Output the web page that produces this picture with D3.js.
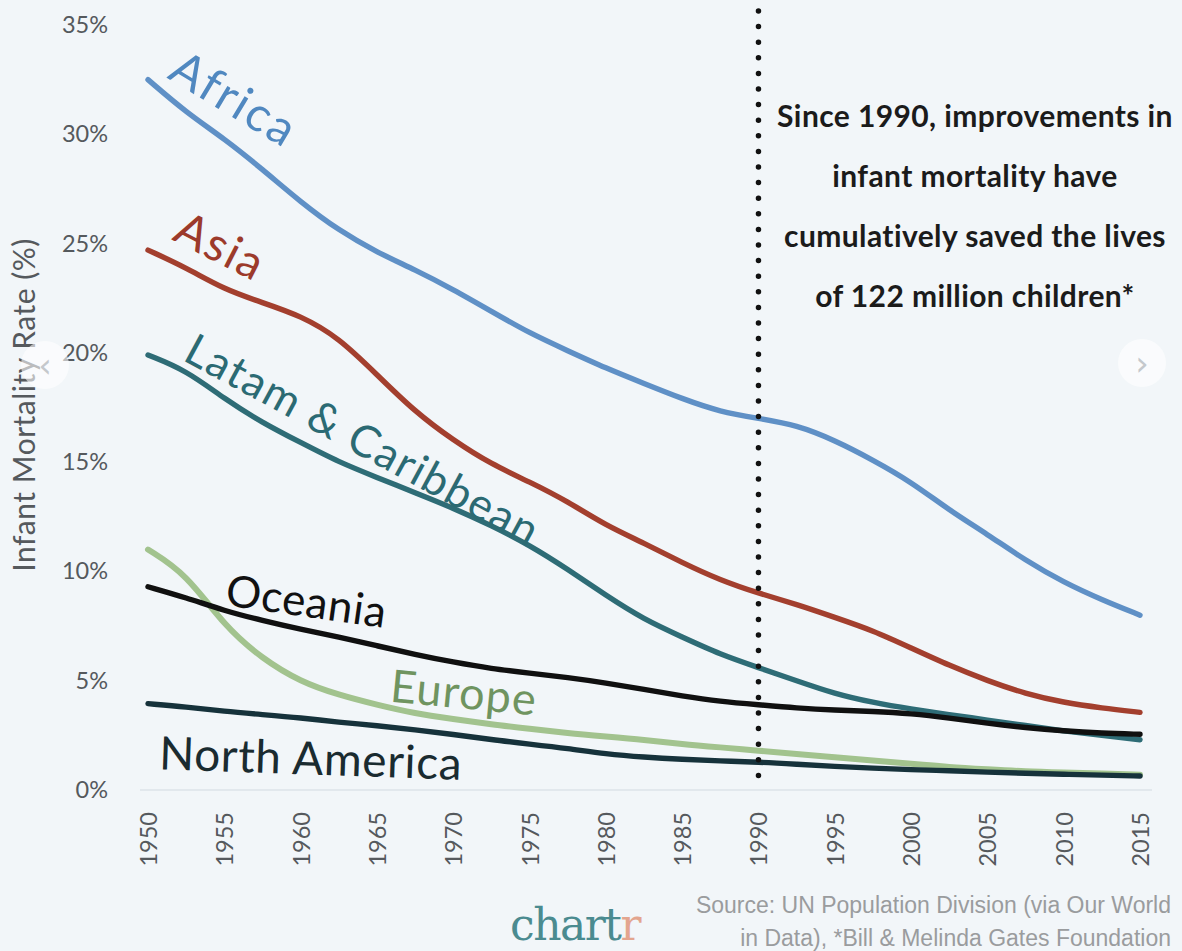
<!DOCTYPE html>
<html>
<head>
<meta charset="utf-8">
<script src="https://cdn.jsdelivr.net/npm/d3@7"></script>
<style>
  html, body { margin: 0; padding: 0; background: #f2f6f9; }
  svg { display: block; }
</style>
</head>
<body>
<svg id="chart" width="1182" height="951"></svg>
<script>
// Infant mortality rate (%) by world region, 1950–2015
const years = [1950, 1952.5, 1955, 1957.5, 1960, 1962.5, 1965, 1967.5, 1970, 1972.5,
               1975, 1977.5, 1980, 1982.5, 1985, 1987.5, 1990, 1992.5, 1995, 1997.5,
               2000, 2002.5, 2005, 2007.5, 2010, 2012.5, 2015];

const africa   = [32.5, 31.0, 29.8, 28.4, 26.9, 25.6, 24.6, 23.8, 22.9, 21.9,
                  20.9, 20.1, 19.3, 18.6, 17.9, 17.3, 17.0, 16.7, 16.0, 15.1,
                  14.1, 12.8, 11.7, 10.5, 9.5, 8.7, 8.0];
const asia     = [24.7, 23.9, 22.9, 22.3, 21.7, 20.7, 19.0, 17.3, 16.0, 14.9,
                  14.1, 13.2, 12.1, 11.3, 10.4, 9.6, 9.0, 8.5, 7.9, 7.3,
                  6.5, 5.7, 5.0, 4.4, 4.0, 3.75, 3.55];
const latam    = [19.9, 19.2, 17.9, 16.8, 15.9, 15.0, 14.3, 13.6, 12.9, 12.1,
                  11.2, 10.1, 8.9, 7.8, 7.0, 6.2, 5.6, 5.0, 4.4, 4.0,
                  3.7, 3.45, 3.2, 2.95, 2.7, 2.5, 2.3];
const europe   = [11.0, 9.9, 7.5, 6.0, 4.95, 4.35, 3.9, 3.5, 3.25, 3.0,
                  2.8, 2.6, 2.45, 2.3, 2.1, 1.95, 1.8, 1.65, 1.5, 1.35,
                  1.2, 1.05, 0.95, 0.85, 0.8, 0.75, 0.7];
const oceania  = [9.3, 8.8, 8.2, 7.75, 7.35, 7.0, 6.6, 6.2, 5.85, 5.55,
                  5.35, 5.15, 4.9, 4.6, 4.3, 4.05, 3.9, 3.75, 3.65, 3.6,
                  3.5, 3.3, 3.05, 2.85, 2.7, 2.6, 2.55];
const northAm  = [3.95, 3.8, 3.6, 3.45, 3.3, 3.1, 2.95, 2.75, 2.55, 2.3,
                  2.1, 1.9, 1.65, 1.5, 1.4, 1.33, 1.28, 1.18, 1.08, 1.0,
                  0.93, 0.88, 0.82, 0.76, 0.72, 0.68, 0.64];

const regionNames = ["Africa", "Asia", "Latam & Caribbean", "Europe", "Oceania", "North America"];
const regionValues = [africa, asia, latam, europe, oceania, northAm];

const yTicks = [0, 5, 10, 15, 20, 25, 30, 35];
const xTicks = [1950, 1955, 1960, 1965, 1970, 1975, 1980, 1985, 1990, 1995, 2000, 2005, 2010, 2015];
const markerYear = 1990;

const noteLines = [
  "Since 1990, improvements in",
  "infant mortality have",
  "cumulatively saved the lives",
  "of 122 million children*"
];
const sourceLines = [
  "Source: UN Population Division (via Our World",
  "in Data), *Bill & Melinda Gates Foundation"
];

// Styling per region
const colors = {
  "Africa": "#5f90c6",
  "Asia": "#a33f2e",
  "Latam & Caribbean": "#2e6c76",
  "Europe": "#a2c38e",
  "Oceania": "#101010",
  "North America": "#16323b"
};
const labelColors = {
  "Africa": "#5088c0",
  "Asia": "#9c3a2b",
  "Latam & Caribbean": "#2b6a73",
  "Europe": "#6f9460",
  "Oceania": "#111111",
  "North America": "#1a2b30"
};
// Inline label placement: anchor in data space, rotation, font size, tracking
const labelLayout = {
  "Africa":            { year: 1951.2, value: 32.6, angle: 31,   size: 48, track: 2.5 },
  "Asia":              { year: 1951.5, value: 25.2, angle: 27,   size: 47, track: 2 },
  "Latam & Caribbean": { year: 1952.2, value: 19.7, angle: 28.4, size: 44, track: 1.6 },
  "Oceania":           { year: 1955.0, value: 8.45, angle: 8,    size: 44, track: 0.6 },
  "Europe":            { year: 1965.8, value: 4.05, angle: 5.5,  size: 45, track: 1.2 },
  "North America":     { year: 1950.7, value: 0.95, angle: 2,    size: 46, track: 0.6 }
};

const svg = d3.select("#chart");
const W = 1182, H = 951;

svg.append("rect").attr("width", W).attr("height", H).attr("fill", "#f2f6f9");

const x = d3.scaleLinear().domain([1950, 2015]).range([148, 1140]);
const y = d3.scaleLinear().domain([0, 35]).range([790, 25]);

// Baseline
svg.append("line")
  .attr("x1", 140).attr("x2", 1152)
  .attr("y1", y(0)).attr("y2", y(0))
  .attr("stroke", "#dde3e8").attr("stroke-width", 1.5);

// Y axis
const yAxis = svg.append("g")
  .attr("transform", "translate(108,0)")
  .call(d3.axisLeft(y).tickValues(yTicks).tickFormat(d => d + "%").tickSize(0).tickPadding(0));
yAxis.select(".domain").remove();
yAxis.selectAll("text")
  .attr("font-family", "Lato, 'Open Sans', sans-serif")
  .attr("font-size", 23.5)
  .attr("fill", "#55595d");

// X axis with vertical year labels
const xAxis = svg.append("g")
  .attr("transform", `translate(0,${y(0)})`)
  .call(d3.axisBottom(x).tickValues(xTicks).tickFormat(d3.format("d")).tickSize(0));
xAxis.select(".domain").remove();
xAxis.selectAll("text")
  .attr("transform", "rotate(-90)")
  .attr("text-anchor", "end")
  .attr("x", -22).attr("y", 0).attr("dy", "0.36em")
  .attr("font-family", "Lato, 'Open Sans', sans-serif")
  .attr("font-size", 23.5)
  .attr("fill", "#55595d");

// Y axis title
svg.append("text")
  .attr("transform", `translate(35,${405}) rotate(-90)`)
  .attr("text-anchor", "middle")
  .attr("font-family", "Lato, 'Open Sans', sans-serif")
  .attr("font-size", 30)
  .attr("letter-spacing", 0.5)
  .attr("fill", "#55595d")
  .text("Infant Mortality Rate (%)");

// Lines
const line = d3.line()
  .x((d, i) => x(years[i]))
  .y(d => y(d))
  .curve(d3.curveBasis);

const gLines = svg.append("g");
regionNames.forEach((name, k) => {
  gLines.append("path")
    .datum(regionValues[k])
    .attr("d", line)
    .attr("fill", "none")
    .attr("stroke", colors[name])
    .attr("stroke-width", name === "Europe" ? 6 : 5.4)
    .attr("stroke-linecap", "round")
    .attr("stroke-linejoin", "round");
});

// Region labels set along their lines
const gLabels = svg.append("g");
regionNames.forEach(name => {
  const L = labelLayout[name];
  gLabels.append("text")
    .attr("transform", `translate(${x(L.year)},${y(L.value)}) rotate(${L.angle})`)
    .attr("font-family", "Lato, 'Open Sans', sans-serif")
    .attr("font-size", L.size)
    .attr("letter-spacing", L.track)
    .attr("fill", labelColors[name])
    .text(name);
});

// 1990 marker
svg.append("line")
  .attr("x1", x(markerYear)).attr("x2", x(markerYear))
  .attr("y1", 11).attr("y2", y(0) - 4)
  .attr("stroke", "#111")
  .attr("stroke-width", 5.5)
  .attr("stroke-linecap", "round")
  .attr("stroke-dasharray", "0 15.6");

// Annotation
const note = svg.append("text")
  .attr("font-family", "Lato, 'Open Sans', sans-serif")
  .attr("font-weight", 700)
  .attr("font-size", 30)
  .attr("letter-spacing", 0.4)
  .attr("fill", "#1b1b1b")
  .attr("text-anchor", "middle");
noteLines.forEach((t, i) => {
  note.append("tspan").attr("x", 975).attr("y", 127 + i * 60).text(t);
});

// Source
const src = svg.append("text")
  .attr("font-family", "'Liberation Sans', Arial, sans-serif")
  .attr("font-size", 23)
  .attr("fill", "#9a9c9e")
  .attr("text-anchor", "end");
sourceLines.forEach((t, i) => {
  src.append("tspan").attr("x", 1171).attr("y", 913 + i * 33).text(t);
});

// Wordmark
const logo = svg.append("text")
  .attr("x", 510).attr("y", 940)
  .attr("font-family", "'DejaVu Serif', 'Liberation Serif', serif")
  .attr("font-size", 44)
  .attr("letter-spacing", -1.5);
logo.append("tspan").attr("fill", "#4b8b90").text("chart");
logo.append("tspan").attr("fill", "#e3a58f").text("r");

// Carousel buttons
[[45, 365, "‹"], [1142, 363, "›"]].forEach(([cx, cy, ch]) => {
  svg.append("circle").attr("cx", cx).attr("cy", cy).attr("r", 24)
    .attr("fill", "#ffffff").attr("opacity", 0.6);
  svg.append("text").attr("x", cx).attr("y", cy).attr("dy", "0.35em")
    .attr("text-anchor", "middle")
    .attr("font-family", "'DejaVu Sans', sans-serif")
    .attr("font-size", 34).attr("fill", "#c4c8cc").text(ch);
});
</script>
</body>
</html>
